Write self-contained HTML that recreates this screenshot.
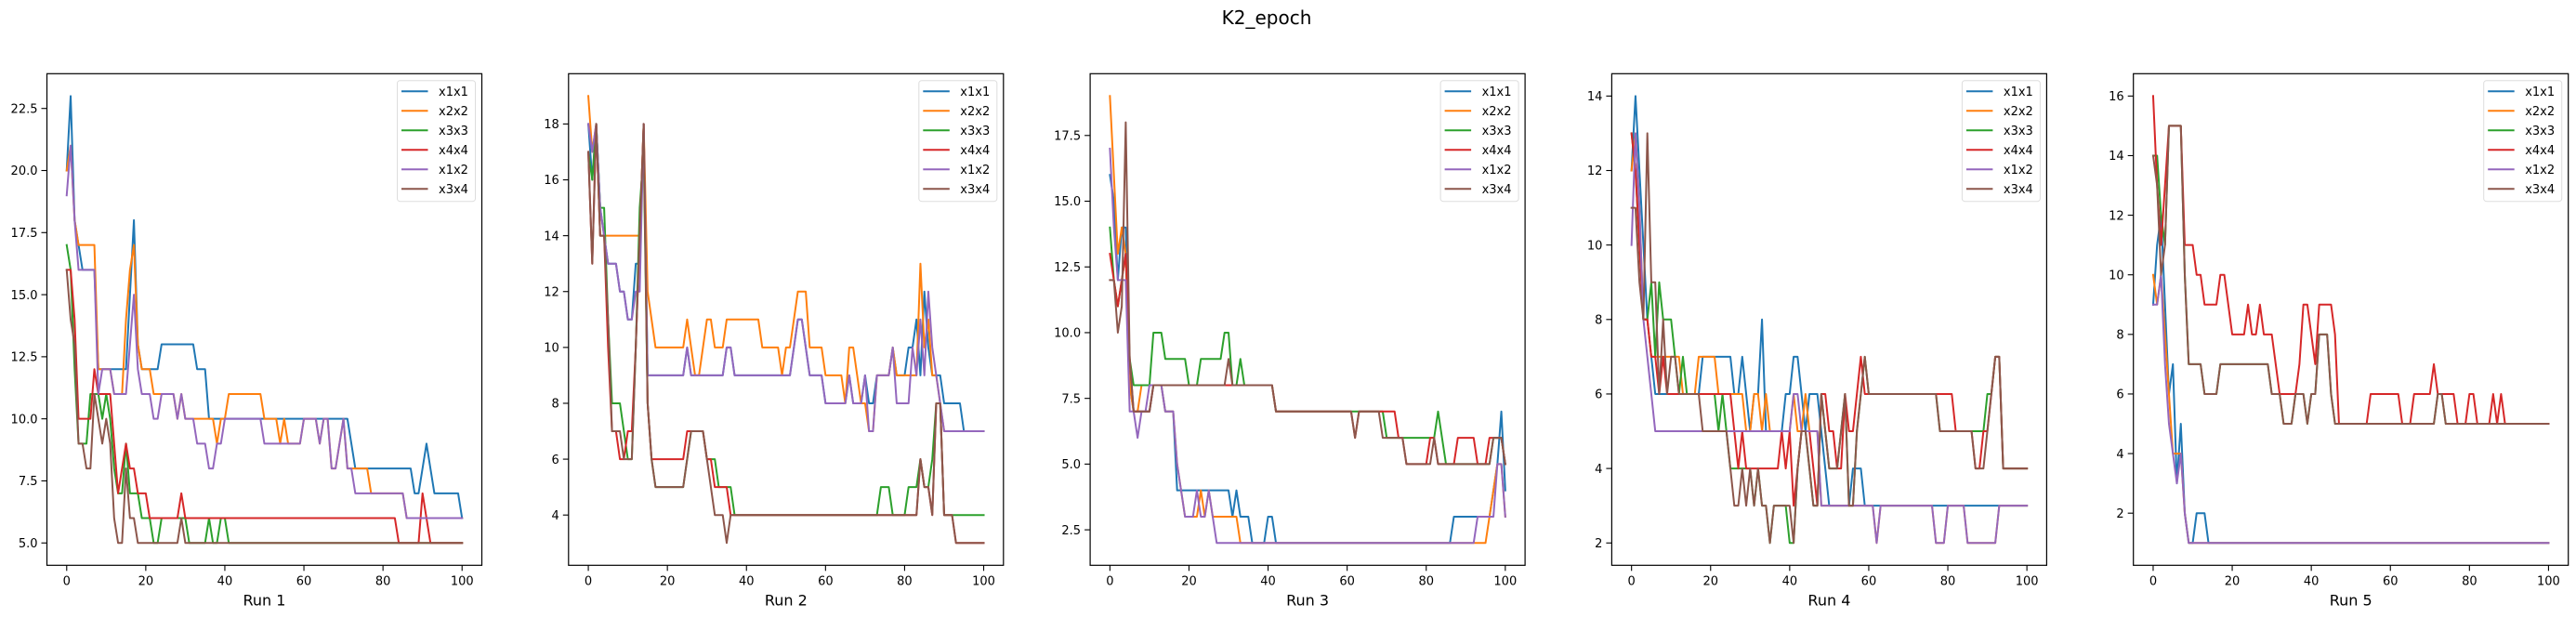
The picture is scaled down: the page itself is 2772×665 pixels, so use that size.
<!DOCTYPE html>
<html><head><meta charset="utf-8"><title>K2_epoch</title>
<style>html,body{margin:0;padding:0;background:#fff}svg{display:block;font-family:"DejaVu Sans","Liberation Sans",sans-serif}</style>
</head><body>
<svg id="fig" width="2772" height="665" viewBox="0 0 2772 665" xmlns="http://www.w3.org/2000/svg">
<rect x="0" y="0" width="2772" height="665" fill="#fff"/>
<text x="1363" y="26" font-size="20" text-anchor="middle" fill="#000">K2_epoch</text>
</svg>
<script>
const seriesNames = ['x1x1','x2x2','x3x3','x4x4','x1x2','x3x4'];
const seriesColors = ['#1f77b4','#ff7f0e','#2ca02c','#d62728','#9467bd','#8c564b'];
const runLabels = ['Run 1','Run 2','Run 3','Run 4','Run 5'];
const xTicks = [0,20,40,60,80,100];

// ---- Run 1 ----
const r1_x1x1 = [20,23,18,17,16,16,16,16,12,12, 12,12,12,12,12,12,15,18,13,12, 12,12,12,12,13,13,13,13,13,13, 13,13,13,12,12,12,10,10,10,10, 10,10,10,10,10,10,10,10,10,10, 10,10,10,10,10,10,10,10,10,10, 10,10,10,10,10,10,10,10,10,10, 10,10,9,8,8,8,8,8,8,8, 8,8,8,8,8,8,8,8,7,7, 8,9,8,7,7,7,7,7,7,7, 6];
const r1_x2x2 = [20,21,18,17,17,17,17,17,12,12, 12,12,11,11,11,14,16,17,13,12, 12,12,11,11,11,11,11,11,10,11, 10,10,10,10,10,10,10,10,9,10, 10,11,11,11,11,11,11,11,11,11, 10,10,10,10,9,10,9,9,9,9, 10,10,10,10,9,10,10,8,8,9, 10,8,8,8,8,8,8,7,7,7, 7,7,7,7,7,7,6,6,6,6, 6,6,6,6,6,6,6,6,6,6, 6];
const r1_x3x3 = [17,16,12,9,9,9,11,11,11,10, 11,10,8,7,7,9,7,7,7,6, 6,6,5,5,6,6,6,6,6,6, 6,5,5,5,5,5,6,5,5,6, 6,5,5,5,5,5,5,5,5,5, 5,5,5,5,5,5,5,5,5,5, 5,5,5,5,5,5,5,5,5,5, 5,5,5,5,5,5,5,5,5,5, 5,5,5,5,5,5,5,5,5,5, 5,5,5,5,5,5,5,5,5,5, 5];
const r1_x4x4 = [16,16,14,10,10,10,10,12,11,11, 11,11,9,7,8,9,8,8,7,7, 7,6,6,6,6,6,6,6,6,7, 6,6,6,6,6,6,6,6,6,6, 6,6,6,6,6,6,6,6,6,6, 6,6,6,6,6,6,6,6,6,6, 6,6,6,6,6,6,6,6,6,6, 6,6,6,6,6,6,6,6,6,6, 6,6,6,6,5,5,5,5,5,5, 7,6,5,5,5,5,5,5,5,5, 5];
const r1_x1x2 = [19,21,18,16,16,16,16,16,11,12, 12,12,11,11,11,11,13,15,12,11, 11,11,10,10,11,11,11,11,10,11, 10,10,10,9,9,9,8,8,9,9, 10,10,10,10,10,10,10,10,10,10, 9,9,9,9,9,9,9,9,9,9, 10,10,10,10,9,10,10,8,8,9, 10,8,8,7,7,7,7,7,7,7, 7,7,7,7,7,7,6,6,6,6, 6,6,6,6,6,6,6,6,6,6, 6];
const r1_x3x4 = [16,14,13,9,9,8,8,11,10,9, 10,9,6,5,5,8,6,6,5,5, 5,5,5,5,5,5,5,5,5,6, 5,5,5,5,5,5,5,5,5,5, 5,5,5,5,5,5,5,5,5,5, 5,5,5,5,5,5,5,5,5,5, 5,5,5,5,5,5,5,5,5,5, 5,5,5,5,5,5,5,5,5,5, 5,5,5,5,5,5,5,5,5,5, 5,5,5,5,5,5,5,5,5,5, 5];
const r1_yTicks = [5.0,7.5,10.0,12.5,15.0,17.5,20.0,22.5];
const r1_yTickLabels = ['5.0','7.5','10.0','12.5','15.0','17.5','20.0','22.5'];

// ---- Run 2 ----
const r2_x1x1 = [18,16,18,15,14,13,13,13,12,12, 11,11,13,13,18,9,9,9,9,9, 9,9,9,9,9,10,9,9,9,9, 9,9,9,9,9,10,10,9,9,9, 9,9,9,9,9,9,9,9,9,9, 9,9,10,11,11,10,9,9,9,9, 8,8,8,8,8,8,9,8,8,8, 9,8,8,9,9,9,9,10,9,9, 9,10,10,11,9,12,10,9,9,9, 8,8,8,8,8,7,7,7,7,7, 7];
const r2_x2x2 = [19,17,18,14,14,14,14,14,14,14, 14,14,14,14,18,12,11,10,10,10, 10,10,10,10,10,11,10,9,9,10, 11,11,10,10,10,11,11,11,11,11, 11,11,11,11,10,10,10,10,10,9, 10,10,11,12,12,12,10,10,10,10, 9,9,9,9,9,8,10,10,9,8, 8,7,7,9,9,9,9,10,9,9, 9,9,9,9,13,10,11,9,9,8, 7,7,7,7,7,7,7,7,7,7, 7];
const r2_x3x3 = [17,16,18,15,15,11,8,8,8,7, 6,6,10,15,17,8,6,5,5,5, 5,5,5,5,5,6,7,7,7,7, 6,6,6,5,5,5,5,4,4,4, 4,4,4,4,4,4,4,4,4,4, 4,4,4,4,4,4,4,4,4,4, 4,4,4,4,4,4,4,4,4,4, 4,4,4,4,5,5,5,4,4,4, 4,5,5,5,6,5,5,6,8,8, 4,4,4,4,4,4,4,4,4,4, 4];
const r2_x4x4 = [17,13,18,14,14,10,7,7,6,6, 7,7,10,14,18,8,6,6,6,6, 6,6,6,6,6,7,7,7,7,7, 6,6,5,5,5,5,4,4,4,4, 4,4,4,4,4,4,4,4,4,4, 4,4,4,4,4,4,4,4,4,4, 4,4,4,4,4,4,4,4,4,4, 4,4,4,4,4,4,4,4,4,4, 4,4,4,4,6,5,5,4,8,8, 4,4,4,3,3,3,3,3,3,3, 3];
const r2_x1x2 = [18,17,18,15,14,13,13,13,12,12, 11,11,12,12,18,9,9,9,9,9, 9,9,9,9,9,10,9,9,9,9, 9,9,9,9,9,10,10,9,9,9, 9,9,9,9,9,9,9,9,9,9, 9,9,10,11,11,10,9,9,9,9, 8,8,8,8,8,8,9,8,8,8, 9,7,7,9,9,9,9,10,8,8, 8,8,10,9,11,9,12,10,9,8, 7,7,7,7,7,7,7,7,7,7, 7];
const r2_x3x4 = [17,13,18,14,14,11,7,7,7,6, 6,6,10,14,18,8,6,5,5,5, 5,5,5,5,5,6,7,7,7,7, 6,5,4,4,4,3,4,4,4,4, 4,4,4,4,4,4,4,4,4,4, 4,4,4,4,4,4,4,4,4,4, 4,4,4,4,4,4,4,4,4,4, 4,4,4,4,4,4,4,4,4,4, 4,4,4,4,6,5,5,4,8,8, 4,4,4,3,3,3,3,3,3,3, 3];
const r2_yTicks = [4,6,8,10,12,14,16,18];
const r2_yTickLabels = ['4','6','8','10','12','14','16','18'];

// ---- Run 3 ----
const r3_x1x1 = [16,15,12,14,14,8,7,7,7,7, 7,8,8,8,7,7,7,4,4,4, 4,4,4,4,4,4,4,4,4,4, 4,3,4,3,3,3,2,2,2,2, 3,3,2,2,2,2,2,2,2,2, 2,2,2,2,2,2,2,2,2,2, 2,2,2,2,2,2,2,2,2,2, 2,2,2,2,2,2,2,2,2,2, 2,2,2,2,2,2,2,3,3,3, 3,3,3,3,3,3,3,4,5,7, 4];
const r3_x2x2 = [19,16,13,14,13,8,7,7,8,8, 8,8,8,8,7,7,7,5,4,3, 3,3,3,4,3,4,3,3,3,3, 3,3,3,2,2,2,2,2,2,2, 2,2,2,2,2,2,2,2,2,2, 2,2,2,2,2,2,2,2,2,2, 2,2,2,2,2,2,2,2,2,2, 2,2,2,2,2,2,2,2,2,2, 2,2,2,2,2,2,2,2,2,2, 2,2,2,2,2,2,3,4,5,5, 3];
const r3_x3x3 = [14,12,11,12,13,9,8,8,8,8, 8,10,10,10,9,9,9,9,9,9, 8,8,8,9,9,9,9,9,9,10, 10,8,8,9,8,8,8,8,8,8, 8,8,7,7,7,7,7,7,7,7, 7,7,7,7,7,7,7,7,7,7, 7,7,7,7,7,7,7,7,7,7, 6,6,6,6,6,6,6,6,6,6, 6,6,6,7,6,5,5,5,5,5, 5,5,5,5,5,5,5,6,6,6, 5];
const r3_x4x4 = [13,12,11,12,13,9,7,7,7,7, 7,8,8,8,8,8,8,8,8,8, 8,8,8,8,8,8,8,8,8,8, 8,8,8,8,8,8,8,8,8,8, 8,8,7,7,7,7,7,7,7,7, 7,7,7,7,7,7,7,7,7,7, 7,7,6,7,7,7,7,7,7,7, 7,7,7,6,6,5,5,5,5,5, 5,6,6,5,5,5,5,5,6,6, 6,6,6,5,5,5,6,6,6,6, 5];
const r3_x1x2 = [17,14,12,12,12,7,7,6,7,7, 8,8,8,8,7,7,7,5,4,3, 3,3,4,3,3,4,3,2,2,2, 2,2,2,2,2,2,2,2,2,2, 2,2,2,2,2,2,2,2,2,2, 2,2,2,2,2,2,2,2,2,2, 2,2,2,2,2,2,2,2,2,2, 2,2,2,2,2,2,2,2,2,2, 2,2,2,2,2,2,2,2,2,2, 2,2,2,3,3,3,3,3,5,5, 3];
const r3_x3x4 = [12,12,10,11,18,9,7,7,7,7, 7,8,8,8,8,8,8,8,8,8, 8,8,8,8,8,8,8,8,8,8, 9,8,8,8,8,8,8,8,8,8, 8,8,7,7,7,7,7,7,7,7, 7,7,7,7,7,7,7,7,7,7, 7,7,6,7,7,7,7,7,7,6, 6,6,6,6,6,5,5,5,5,5, 5,5,6,5,5,5,5,5,5,5, 5,5,5,5,5,5,5,6,6,6, 5];
const r3_yTicks = [2.5,5.0,7.5,10.0,12.5,15.0,17.5];
const r3_yTickLabels = ['2.5','5.0','7.5','10.0','12.5','15.0','17.5'];

// ---- Run 4 ----
const r4_x1x1 = [12,14,12,10,8,7,6,6,6,6, 6,6,6,6,6,6,6,6,7,7, 7,7,7,7,7,7,6,6,7,6, 5,6,6,8,5,5,5,5,5,6, 6,7,7,6,5,6,6,6,5,4, 3,3,3,3,3,3,4,4,4,3, 3,3,3,3,3,3,3,3,3,3, 3,3,3,3,3,3,3,3,3,3, 3,3,3,3,3,3,3,3,3,3, 3,3,3,3,3,3,3,3,3,3, 3];
const r4_x2x2 = [12,13,11,8,8,7,7,7,7,7, 7,7,7,6,6,6,6,7,7,7, 7,7,6,6,6,6,6,6,6,5, 5,6,6,5,6,5,5,5,5,5, 5,6,5,5,6,5,5,5,3,3, 3,3,3,3,3,3,3,3,3,3, 3,3,2,3,3,3,3,3,3,3, 3,3,3,3,3,3,3,2,2,2, 3,3,3,3,3,2,2,2,2,2, 2,2,2,3,3,3,3,3,3,3, 3];
const r4_x3x3 = [13,12,10,8,8,9,7,9,8,8, 8,7,6,7,6,6,6,6,6,6, 6,6,5,6,5,4,4,4,4,4, 4,3,4,3,3,2,3,3,3,3, 2,2,4,5,5,4,3,3,6,5, 4,4,4,5,6,3,3,5,6,7, 6,6,6,6,6,6,6,6,6,6, 6,6,6,6,6,6,6,6,5,5, 5,5,5,5,5,5,5,5,5,5, 6,6,7,7,4,4,4,4,4,4, 4];
const r4_x4x4 = [13,12,10,8,8,7,7,6,7,6, 6,6,6,6,6,6,6,6,6,6, 6,6,6,6,6,6,5,4,5,4, 4,4,4,4,4,4,4,4,5,4, 5,3,4,5,5,5,4,3,6,6, 5,5,4,4,6,5,5,6,7,6, 6,6,6,6,6,6,6,6,6,6, 6,6,6,6,6,6,6,6,6,6, 6,6,5,5,5,5,5,4,4,5, 5,6,7,7,4,4,4,4,4,4, 4];
const r4_x1x2 = [10,13,11,8,7,6,5,5,5,5, 5,5,5,5,5,5,5,5,5,5, 5,5,5,5,5,5,5,5,5,5, 5,5,5,5,5,5,5,5,5,5, 5,6,6,5,5,5,5,5,3,3, 3,3,3,3,3,3,3,3,3,3, 3,3,2,3,3,3,3,3,3,3, 3,3,3,3,3,3,3,2,2,2, 3,3,3,3,3,2,2,2,2,2, 2,2,2,3,3,3,3,3,3,3, 3];
const r4_x3x4 = [11,11,9,8,13,9,9,6,8,6, 7,7,6,6,6,6,6,6,5,5, 5,5,5,5,5,4,3,3,4,3, 4,3,4,3,3,2,3,3,3,3, 3,2,4,5,5,4,3,3,6,5, 4,4,4,5,6,3,3,5,6,7, 6,6,6,6,6,6,6,6,6,6, 6,6,6,6,6,6,6,6,5,5, 5,5,5,5,5,5,5,4,4,4, 5,6,7,7,4,4,4,4,4,4, 4];
const r4_yTicks = [2,4,6,8,10,12,14];
const r4_yTickLabels = ['2','4','6','8','10','12','14'];

// ---- Run 5 ----
const r5_x1x1 = [9,11,12,9,6,7,3,5,2,1, 1,2,2,2,1,1,1,1,1,1, 1,1,1,1,1,1,1,1,1,1, 1,1,1,1,1,1,1,1,1,1, 1,1,1,1,1,1,1,1,1,1, 1,1,1,1,1,1,1,1,1,1, 1,1,1,1,1,1,1,1,1,1, 1,1,1,1,1,1,1,1,1,1, 1,1,1,1,1,1,1,1,1,1, 1,1,1,1,1,1,1,1,1,1, 1];
const r5_x2x2 = [10,9,10,8,6,4,4,4,2,1, 1,1,1,1,1,1,1,1,1,1, 1,1,1,1,1,1,1,1,1,1, 1,1,1,1,1,1,1,1,1,1, 1,1,1,1,1,1,1,1,1,1, 1,1,1,1,1,1,1,1,1,1, 1,1,1,1,1,1,1,1,1,1, 1,1,1,1,1,1,1,1,1,1, 1,1,1,1,1,1,1,1,1,1, 1,1,1,1,1,1,1,1,1,1, 1];
const r5_x3x3 = [14,14,12,11,15,15,15,15,10,7, 7,7,7,6,6,6,6,7,7,7, 7,7,7,7,7,7,7,7,7,7, 6,6,6,5,5,5,6,6,6,5, 6,6,8,8,8,6,5,5,5,5, 5,5,5,5,5,5,5,5,5,5, 5,5,5,5,5,5,5,5,5,5, 5,5,6,6,5,5,5,5,5,5, 5,5,5,5,5,5,5,5,5,5, 5,5,5,5,5,5,5,5,5,5, 5];
const r5_x4x4 = [16,13,11,13,15,15,15,15,11,11, 11,10,10,9,9,9,9,10,10,9, 8,8,8,8,9,8,8,9,8,8, 8,7,6,6,6,6,6,7,9,9, 8,7,9,9,9,9,8,5,5,5, 5,5,5,5,5,6,6,6,6,6, 6,6,6,5,5,5,6,6,6,6, 6,7,6,6,6,6,6,5,5,5, 6,6,5,5,5,5,6,5,6,5, 5,5,5,5,5,5,5,5,5,5, 5];
const r5_x1x2 = [9,9,10,7,5,4,3,4,2,1, 1,1,1,1,1,1,1,1,1,1, 1,1,1,1,1,1,1,1,1,1, 1,1,1,1,1,1,1,1,1,1, 1,1,1,1,1,1,1,1,1,1, 1,1,1,1,1,1,1,1,1,1, 1,1,1,1,1,1,1,1,1,1, 1,1,1,1,1,1,1,1,1,1, 1,1,1,1,1,1,1,1,1,1, 1,1,1,1,1,1,1,1,1,1, 1];
const r5_x3x4 = [14,13,10,11,15,15,15,15,10,7, 7,7,7,6,6,6,6,7,7,7, 7,7,7,7,7,7,7,7,7,7, 6,6,6,5,5,5,6,6,6,5, 6,6,8,8,8,6,5,5,5,5, 5,5,5,5,5,5,5,5,5,5, 5,5,5,5,5,5,5,5,5,5, 5,5,6,6,5,5,5,5,5,5, 5,5,5,5,5,5,5,5,5,5, 5,5,5,5,5,5,5,5,5,5, 5];
const r5_yTicks = [2,4,6,8,10,12,14,16];
const r5_yTickLabels = ['2','4','6','8','10','12','14','16'];

const runSeries = [
  [r1_x1x1,r1_x2x2,r1_x3x3,r1_x4x4,r1_x1x2,r1_x3x4],
  [r2_x1x1,r2_x2x2,r2_x3x3,r2_x4x4,r2_x1x2,r2_x3x4],
  [r3_x1x1,r3_x2x2,r3_x3x3,r3_x4x4,r3_x1x2,r3_x3x4],
  [r4_x1x1,r4_x2x2,r4_x3x3,r4_x4x4,r4_x1x2,r4_x3x4],
  [r5_x1x1,r5_x2x2,r5_x3x3,r5_x4x4,r5_x1x2,r5_x3x4]
];
const runYTicks = [r1_yTicks,r2_yTicks,r3_yTicks,r4_yTicks,r5_yTicks];
const runYTickLabels = [r1_yTickLabels,r2_yTickLabels,r3_yTickLabels,r4_yTickLabels,r5_yTickLabels];

const NS = 'http://www.w3.org/2000/svg';
const svg = document.getElementById('fig');
const AX_TOP = 79.3, AX_BOTTOM = 608.3, AX_W = 468, AX_H = AX_BOTTOM - AX_TOP;
function mk(tag, attrs, parent) {
  const e = document.createElementNS(NS, tag);
  for (const k in attrs) e.setAttribute(k, attrs[k]);
  (parent || svg).appendChild(e);
  return e;
}

runSeries.forEach((series, r) => {
  const left = 50.5 + 561.3 * r;
  let n = 0;
  series.forEach(s => { n = Math.max(n, s.length); });
  const xmin = 0, xmax = n - 1;
  const xpad = (xmax - xmin) * 0.05;
  const xlo = xmin - xpad, xhi = xmax + xpad;
  let vmin = Infinity, vmax = -Infinity;
  series.forEach(s => s.forEach(v => { vmin = Math.min(vmin, v); vmax = Math.max(vmax, v); }));
  const ypad = (vmax - vmin) * 0.05;
  const ylo = vmin - ypad, yhi = vmax + ypad;
  const xScale = v => left + (v - xlo) / (xhi - xlo) * AX_W;
  const yScale = v => AX_BOTTOM - (v - ylo) / (yhi - ylo) * AX_H;

  const g = mk('g', {});
  
  

  // clip
  const clip = mk('clipPath', {id: 'clip' + r}, g);
  mk('rect', {x: left, y: AX_TOP, width: AX_W, height: AX_H}, clip);

  // series lines
  const lg = mk('g', {'clip-path': 'url(#clip' + r + ')'}, g);
  
  
  series.forEach((s, si) => {
    const pts = s.map((v, i) => xScale(i).toFixed(2) + ',' + yScale(v).toFixed(2)).join(' ');
    const pl = mk('polyline', {points: pts, fill: 'none', stroke: seriesColors[si], 'stroke-width': 2, 'stroke-linejoin': 'round', 'stroke-linecap': 'square'}, lg);
    
    
  });

  // frame
  const fr = mk('rect', {x: left, y: AX_TOP, width: AX_W, height: AX_H, fill: 'none', stroke: '#000', 'stroke-width': 1.2}, g);
  
  

  // x ticks
  xTicks.forEach(t => {
    const x = xScale(t);
    const tk = mk('line', {x1: x, y1: AX_BOTTOM, x2: x, y2: AX_BOTTOM + 6, stroke: '#000', 'stroke-width': 1.1}, g);
    
    
    const tl = mk('text', {x: x, y: AX_BOTTOM + 21, 'font-size': 13, 'text-anchor': 'middle', fill: '#000'}, g);
    
    
    tl.textContent = String(t);
  });

  // y ticks
  runYTicks[r].forEach((t, ti) => {
    const y = yScale(t);
    const tk = mk('line', {x1: left - 6, y1: y, x2: left, y2: y, stroke: '#000', 'stroke-width': 1.1}, g);
    
    
    const tl = mk('text', {x: left - 10, y: y + 4.7, 'font-size': 13, 'text-anchor': 'end', fill: '#000'}, g);
    
    
    tl.textContent = runYTickLabels[r][ti];
  });

  // x axis title
  const xt = mk('text', {x: left + AX_W / 2, y: 651.5, 'font-size': 16, 'text-anchor': 'middle', fill: '#000'}, g);
  
  
  xt.textContent = runLabels[r];

  // legend
  const lx = left + AX_W - 91, ly = AX_TOP + 7.4;
  const leg = mk('g', {}, g);
  
  
  mk('rect', {x: lx, y: ly, width: 84, height: 130, rx: 3, fill: '#fff', 'fill-opacity': 0.8, stroke: '#ddd', 'stroke-width': 1}, leg);
  seriesNames.forEach((nm, si) => {
    const cy = AX_TOP + 19 + si * 21;
    const ent = mk('g', {}, leg);
    
    
    mk('line', {x1: lx + 4.5, y1: cy, x2: lx + 33, y2: cy, stroke: seriesColors[si], 'stroke-width': 2}, ent);
    const t = mk('text', {x: lx + 44.5, y: cy + 4.7, 'font-size': 13, fill: '#000'}, ent);
    t.textContent = nm;
  });
});
</script>
</body></html>
